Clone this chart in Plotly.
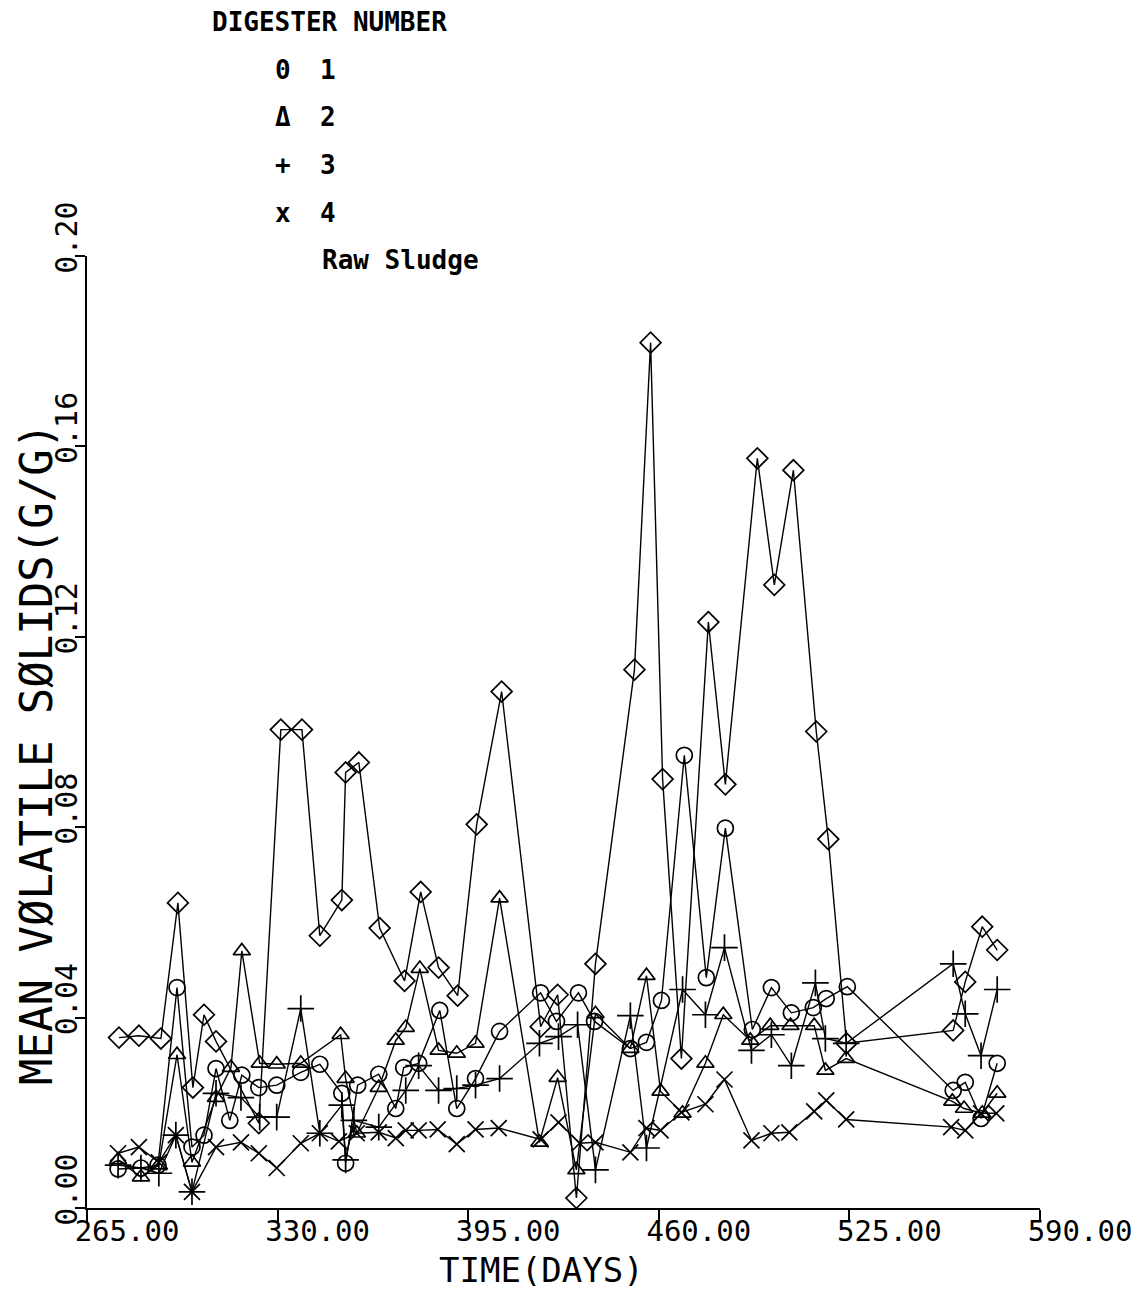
import plotly.graph_objects as go

# ---------------- data ----------------
days_raw = [275.9, 282.7, 290.2, 296.0, 301.1, 304.9, 309.0, 323.6, 331.1, 338.3, 344.4, 351.9, 353.2,
            357.7, 364.8, 373.3, 378.8, 384.9, 391.4, 397.9, 406.4, 419.7, 425.5, 431.9, 438.4, 451.7,
            457.2, 461.3, 467.7, 476.9, 482.7, 493.6, 499.4, 505.9, 513.7, 517.8, 524.0, 560.4, 564.5,
            570.3, 575.4]
vs_raw = [0.0358, 0.0362, 0.0356, 0.0641, 0.0253, 0.0406, 0.0350, 0.0178, 0.1005, 0.1005, 0.0572, 0.0647,
          0.0915, 0.0936, 0.0588, 0.0477, 0.0664, 0.0505, 0.0446, 0.0806, 0.1085, 0.0381, 0.0448, 0.0021,
          0.0513, 0.1131, 0.1818, 0.0901, 0.0314, 0.1231, 0.0890, 0.1575, 0.1309, 0.1550, 0.1001, 0.0775,
          0.0346, 0.0373, 0.0475, 0.0591, 0.0542]

days_d1 = [275.6, 283.4, 289.2, 295.7, 300.8, 304.9, 309.0, 313.7, 317.8, 323.6, 329.7, 337.9, 344.4,
           351.9, 353.2, 357.3, 364.5, 370.3, 373.0, 378.1, 385.3, 391.1, 397.5, 405.7, 419.7, 425.1,
           432.6, 438.1, 450.3, 455.8, 460.9, 468.7, 476.2, 482.7, 491.9, 498.4, 505.2, 512.7, 517.1,
           524.3, 560.4, 564.5, 569.9, 575.4]
vs_d1 = [0.0082, 0.0084, 0.0090, 0.0463, 0.0128, 0.0153, 0.0293, 0.0184, 0.0279, 0.0253, 0.0258, 0.0285,
         0.0302, 0.0241, 0.0094, 0.0258, 0.0281, 0.0209, 0.0295, 0.0304, 0.0415, 0.0209, 0.0272, 0.0371,
         0.0452, 0.0392, 0.0452, 0.0392, 0.0335, 0.0348, 0.0436, 0.0951, 0.0484, 0.0798, 0.0375, 0.0463,
         0.0410, 0.0421, 0.0440, 0.0465, 0.0247, 0.0264, 0.0188, 0.0304]

days_d2 = [275.6, 283.4, 289.5, 295.7, 300.8, 309.0, 314.1, 317.8, 323.9, 329.7, 337.9, 351.5, 353.2,
           357.0, 364.5, 370.3, 373.7, 378.5, 384.9, 391.1, 397.5, 405.7, 419.3, 425.5, 431.9, 438.4,
           450.3, 455.8, 460.6, 468.1, 475.9, 482.0, 491.2, 498.0, 504.9, 513.0, 516.8, 523.9, 560.1,
           564.1, 570.3, 575.4]
vs_d2 = [0.0101, 0.0065, 0.0090, 0.0322, 0.0096, 0.0232, 0.0295, 0.0540, 0.0304, 0.0302, 0.0304, 0.0364,
         0.0272, 0.0157, 0.0253, 0.0352, 0.0379, 0.0503, 0.0331, 0.0325, 0.0346, 0.0651, 0.0138, 0.0274,
         0.0080, 0.0408, 0.0335, 0.0488, 0.0245, 0.0199, 0.0304, 0.0406, 0.0352, 0.0383, 0.0383, 0.0383,
         0.0289, 0.0314, 0.0224, 0.0209, 0.0199, 0.0241]

days_d3 = [275.6, 283.4, 289.5, 295.3, 300.8, 309.0, 317.5, 323.9, 329.7, 337.9, 344.4, 351.9, 353.2,
           356.0, 364.5, 373.7, 378.1, 384.9, 391.1, 397.5, 405.7, 419.3, 425.8, 432.3, 438.4, 450.3,
           455.8, 468.1, 475.9, 482.4, 491.6, 498.4, 505.2, 513.4, 516.8, 523.9, 560.4, 564.5, 569.9,
           575.4]
vs_d3 = [0.0090, 0.0084, 0.0073, 0.0153, 0.0034, 0.0241, 0.0232, 0.0191, 0.0191, 0.0419, 0.0157, 0.0216,
         0.0101, 0.0184, 0.0170, 0.0247, 0.0299, 0.0247, 0.0251, 0.0258, 0.0272, 0.0346, 0.0360, 0.0385,
         0.0080, 0.0404, 0.0126, 0.0459, 0.0406, 0.0547, 0.0331, 0.0364, 0.0299, 0.0473, 0.0356, 0.0346,
         0.0513, 0.0408, 0.0320, 0.0459]

days_d4 = [275.6, 282.7, 289.5, 295.3, 300.8, 309.0, 317.5, 323.6, 329.7, 337.9, 344.4, 350.9, 357.0,
           364.5, 370.3, 373.7, 378.1, 384.6, 391.1, 397.5, 405.4, 419.7, 425.8, 433.0, 438.4, 450.3,
           455.8, 460.6, 467.7, 475.9, 482.4, 491.6, 498.4, 504.5, 513.0, 517.1, 523.9, 559.7, 564.5,
           569.9, 575.1]
vs_d4 = [0.0115, 0.0128, 0.0096, 0.0153, 0.0034, 0.0128, 0.0138, 0.0115, 0.0084, 0.0136, 0.0157, 0.0140,
         0.0157, 0.0159, 0.0147, 0.0163, 0.0163, 0.0165, 0.0134, 0.0165, 0.0168, 0.0144, 0.0180, 0.0136,
         0.0138, 0.0117, 0.0168, 0.0163, 0.0201, 0.0218, 0.0270, 0.0142, 0.0157, 0.0159, 0.0203, 0.0226,
         0.0186, 0.0170, 0.0163, 0.0199, 0.0199]

x_ticks = [265, 330, 395, 460, 525, 590]
x_ticktext = ["265.00", "330.00", "395.00", "460.00", "525.00", "590.00"]
y_ticks = [0.0, 0.04, 0.08, 0.12, 0.16, 0.20]
y_ticktext = ["0.00", "0.04", "0.08", "0.12", "0.16", "0.20"]

legend_symbols = ["0", "\u0394", "+", "x"]
legend_numbers = ["1", "2", "3", "4"]

# ---------------- figure ----------------
W, H = 1145, 1291
L, R, T, B = 87, 105, 256, 83
PW, PH = W - L - R, H - T - B

STROKE = "DejaVu Sans Mono"
TYPE = "DejaVu Sans Mono"

series = [
    (days_d1, vs_d1, "circle-open", 16, "1"),
    (days_d2, vs_d2, "triangle-up-open", 15, "2"),
    (days_d3, vs_d3, "cross-thin-open", 19, "3"),
    (days_d4, vs_d4, "x-thin-open", 16, "4"),
    (days_raw, vs_raw, "diamond-open", 16, "Raw Sludge"),
]

fig = go.Figure()
for xs, ys, sym, sz, name in series:
    fig.add_trace(go.Scatter(
        x=xs, y=ys, mode="lines+markers", name=name,
        line=dict(color="black", width=1.4),
        marker=dict(symbol=sym, size=sz, color="black", line=dict(color="black", width=1.7)),
        cliponaxis=False,
    ))

def px_x(px):
    return (px - L) / PW

def px_y(py):
    return (H - B - py) / PH

LEG_FONT = dict(family=TYPE, size=26, color="black", weight="bold")
ann = []
ann.append(dict(text="DIGESTER NUMBER", x=px_x(210), y=px_y(22), xanchor="left", yanchor="middle",
                font=LEG_FONT))
row_y = [70, 117, 165, 213]
for s, n, ry in zip(legend_symbols, legend_numbers, row_y):
    ann.append(dict(text=s, x=px_x(283), y=px_y(ry), xanchor="center", yanchor="middle", font=LEG_FONT))
    ann.append(dict(text=n, x=px_x(328), y=px_y(ry), xanchor="center", yanchor="middle", font=LEG_FONT))
ann.append(dict(text="Raw Sludge", x=px_x(320), y=px_y(260), xanchor="left", yanchor="middle",
                font=LEG_FONT))
ann.append(dict(text="TIME(DAYS)", x=px_x(541), y=px_y(1270), xanchor="center", yanchor="middle",
                font=dict(family=STROKE, size=34, color="black")))
ann.append(dict(text="MEAN V\u00d8LATILE S\u00d8LIDS(G/G)", x=px_x(36), y=px_y(754), textangle=-90,
                xanchor="center", yanchor="middle",
                font=dict(family=STROKE, size=44, color="black")))
for a in ann:
    a.update(xref="paper", yref="paper", showarrow=False)

fig.update_layout(
    width=W, height=H, autosize=False,
    margin=dict(l=L, r=R, t=T, b=B, pad=0),
    paper_bgcolor="white", plot_bgcolor="white",
    showlegend=False,
    annotations=ann,
    xaxis=dict(range=[265, 590], tickvals=x_ticks, ticktext=x_ticktext,
               showline=True, linecolor="black", linewidth=2, mirror=False,
               ticks="outside", ticklen=12, tickwidth=2, tickcolor="black",
               showgrid=False, zeroline=False, ticklabelshift=40, ticklabelstandoff=-16,
               tickfont=dict(family=STROKE, size=29, color="black")),
    yaxis=dict(range=[0, 0.2], tickvals=y_ticks, ticktext=y_ticktext, tickangle=-90,
               showline=True, linecolor="black", linewidth=2, mirror=False,
               ticks="outside", ticklen=10, tickwidth=2, tickcolor="black",
               showgrid=False, zeroline=False, ticklabelshift=-14, ticklabelstandoff=-14,
               tickfont=dict(family=STROKE, size=30, color="black")),
)

fig.write_html("out.html")
